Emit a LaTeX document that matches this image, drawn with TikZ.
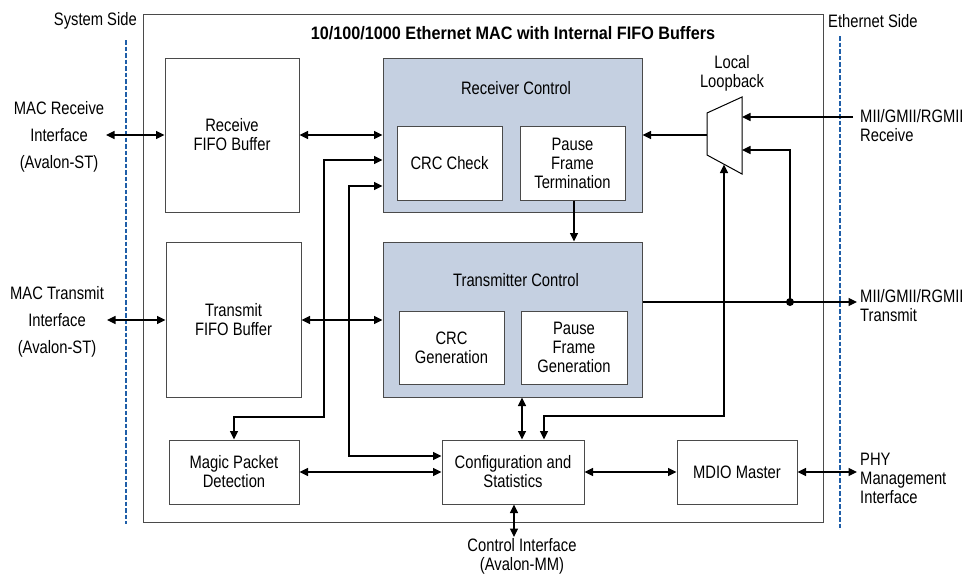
\documentclass[tikz,border=0pt]{standalone}
\usepackage{fontspec}
\setmainfont{Liberation Sans}[FakeStretch=0.82]
\newfontfamily\titlefont{Liberation Sans}[FakeStretch=0.9]
\usetikzlibrary{arrows.meta}
\definecolor{shade}{HTML}{C5D0E1}
\definecolor{edge}{HTML}{4A4A4A}
\definecolor{dashblue}{HTML}{1F5EA8}
\newcommand{\dfont}{\fontsize{18}{19}\selectfont}
\tikzset{
  box/.style={draw=edge, line width=1pt, fill=white, inner sep=0pt, align=center, font=\dfont},
  shaded/.style={box, fill=shade},
  lbl/.style={inner sep=0pt, font=\dfont},
  conn/.style={line width=1.2pt, draw=black, arrows={-Triangle[length=8.5pt,width=8pt]}},
  bconn/.style={line width=1.2pt, draw=black, arrows={Triangle[length=8.5pt,width=8pt]-Triangle[length=8.5pt,width=8pt]}},
  sideline/.style={draw=dashblue, line width=2pt, dash pattern=on 4.5pt off 2pt}
}
\begin{document}
\begin{tikzpicture}[x=1pt,y=-1pt]
\useasboundingbox (0,0) rectangle (969,574);
% outer box
\node[draw=edge, line width=1pt, minimum width=680pt, minimum height=508pt, inner sep=0pt] (outer) at (483,268) {};
\node[lbl, font=\titlefont\fontsize{18}{19}\selectfont\bfseries] (title) at (513,33) {10/100/1000 Ethernet MAC with Internal FIFO Buffers};
% side lines
\coordinate (sysT) at (126,40); \coordinate (sysB) at (126,524);
\coordinate (ethT) at (840,36); \coordinate (ethB) at (840,528);
\draw[sideline] (sysT) -- (sysB);
\draw[sideline] (ethT) -- (ethB);
\node[lbl, anchor=east] (sysside) at (137,21) {System Side};
\node[lbl, anchor=west] (ethside) at (828,21) {Ethernet Side};
% blocks
\node[box, minimum width=134pt, minimum height=154pt] (rxfifo) at (232,135) {Receive\\FIFO Buffer};
\node[box, minimum width=135pt, minimum height=155pt] (txfifo) at (233.5,319.5) {Transmit\\FIFO Buffer};
\node[shaded, minimum width=259pt, minimum height=154pt] (rxctl) at (512.5,135) {};
\node[lbl] (rxctltitle) at (516,88) {Receiver Control};
\node[box, minimum width=105pt, minimum height=74pt] (crcchk) at (449.5,163) {CRC Check};
\node[box, minimum width=105pt, minimum height=74pt] (pft) at (572.5,163) {Pause\\Frame\\Termination};
\node[shaded, minimum width=259pt, minimum height=155pt] (txctl) at (512.5,319.5) {};
\node[lbl] (txctltitle) at (516,280) {Transmitter Control};
\node[box, minimum width=105pt, minimum height=73pt] (crcgen) at (451.5,347.5) {CRC\\Generation};
\node[box, minimum width=106pt, minimum height=73pt] (pfg) at (574,347.5) {Pause\\Frame\\Generation};
\node[box, minimum width=130pt, minimum height=64pt] (magic) at (234,472) {Magic Packet\\Detection};
\node[box, minimum width=142pt, minimum height=64pt] (cfg) at (513,472) {Configuration and\\Statistics};
\node[box, minimum width=120pt, minimum height=64pt] (mdio) at (737,472) {MDIO Master};
% mux
\coordinate (muxA) at (707,113); \coordinate (muxB) at (742,97);
\coordinate (muxC) at (742,174); \coordinate (muxD) at (707,155);
\draw[draw=black, line width=1pt, fill=white] (muxA) -- (muxB) -- (muxC) -- (muxD) -- cycle;
\coordinate (muxL) at (707,135);
\coordinate (muxI1) at (742,117);
\coordinate (muxI2) at (742,150);
\coordinate (muxS) at (724,164.5);
\node[lbl, align=center] (loop) at (732,73) {Local\\Loopback};
% external labels
\node[lbl, align=center, font=\fontsize{18}{27}\selectfont] (macrxl) at (59,137) {MAC Receive\\Interface\\(Avalon-ST)};
\node[lbl, align=center, font=\fontsize{18}{27}\selectfont] (mactxl) at (57,322) {MAC Transmit\\Interface\\(Avalon-ST)};
\node[lbl, align=left, anchor=west] (miirxl) at (860,126) {MII/GMII/RGMII\\Receive};
\node[lbl, align=left, anchor=west] (miitxl) at (860,306) {MII/GMII/RGMII\\Transmit};
\node[lbl, align=left, anchor=west] (phyl) at (860,478) {PHY\\Management\\Interface};
\node[lbl, align=center] (ctlifl) at (522,556) {Control Interface\\(Avalon-MM)};
% free ends
\coordinate (macrx) at (106,135);
\coordinate (mactx) at (107,320);
\coordinate (miirx) at (853,117);
\coordinate (miitx) at (857,302);
\coordinate (phy) at (857,472);
\coordinate (ctlif) at (514,537);
\coordinate (tap) at (790,302);
% connectors
\draw[bconn] (macrx) -- (rxfifo.west);
\draw[bconn] (rxfifo.east) -- (rxctl.west);
\draw[bconn] (rxctl.west |- 0,160) -- (324,160) -- (324,417) -- (magic.north |- 0,417) -- (magic.north);
\draw[bconn] (rxctl.west |- 0,186) -- (349,186) -- (349,456) -- (cfg.west |- 0,456);
\draw[conn] (muxL) -- (rxctl.east);
\draw[conn] (miirx) -- (muxI1);
\draw[conn] (tap) -- (790,150) -- (muxI2);
\draw[bconn] (muxS) -- (724,416) -- (544,416) -- (cfg.north -| 544,0);
\draw[conn] (pft.south -| 574,0) -- (txctl.north -| 574,0);
\draw[conn] (txctl.east |- 0,302) -- (miitx);
\fill (tap) circle (4pt);
\draw[bconn] (mactx) -- (txfifo.west |- mactx);
\draw[bconn] (txfifo.east |- 0,320) -- (txctl.west |- 0,320);
\draw[bconn] (txctl.south -| 522,0) -- (cfg.north -| 522,0);
\draw[bconn] (magic.east) -- (cfg.west);
\draw[bconn] (cfg.east) -- (mdio.west);
\draw[bconn] (mdio.east) -- (phy);
\draw[bconn] (cfg.south -| ctlif) -- (ctlif);
\end{tikzpicture}
\end{document}
